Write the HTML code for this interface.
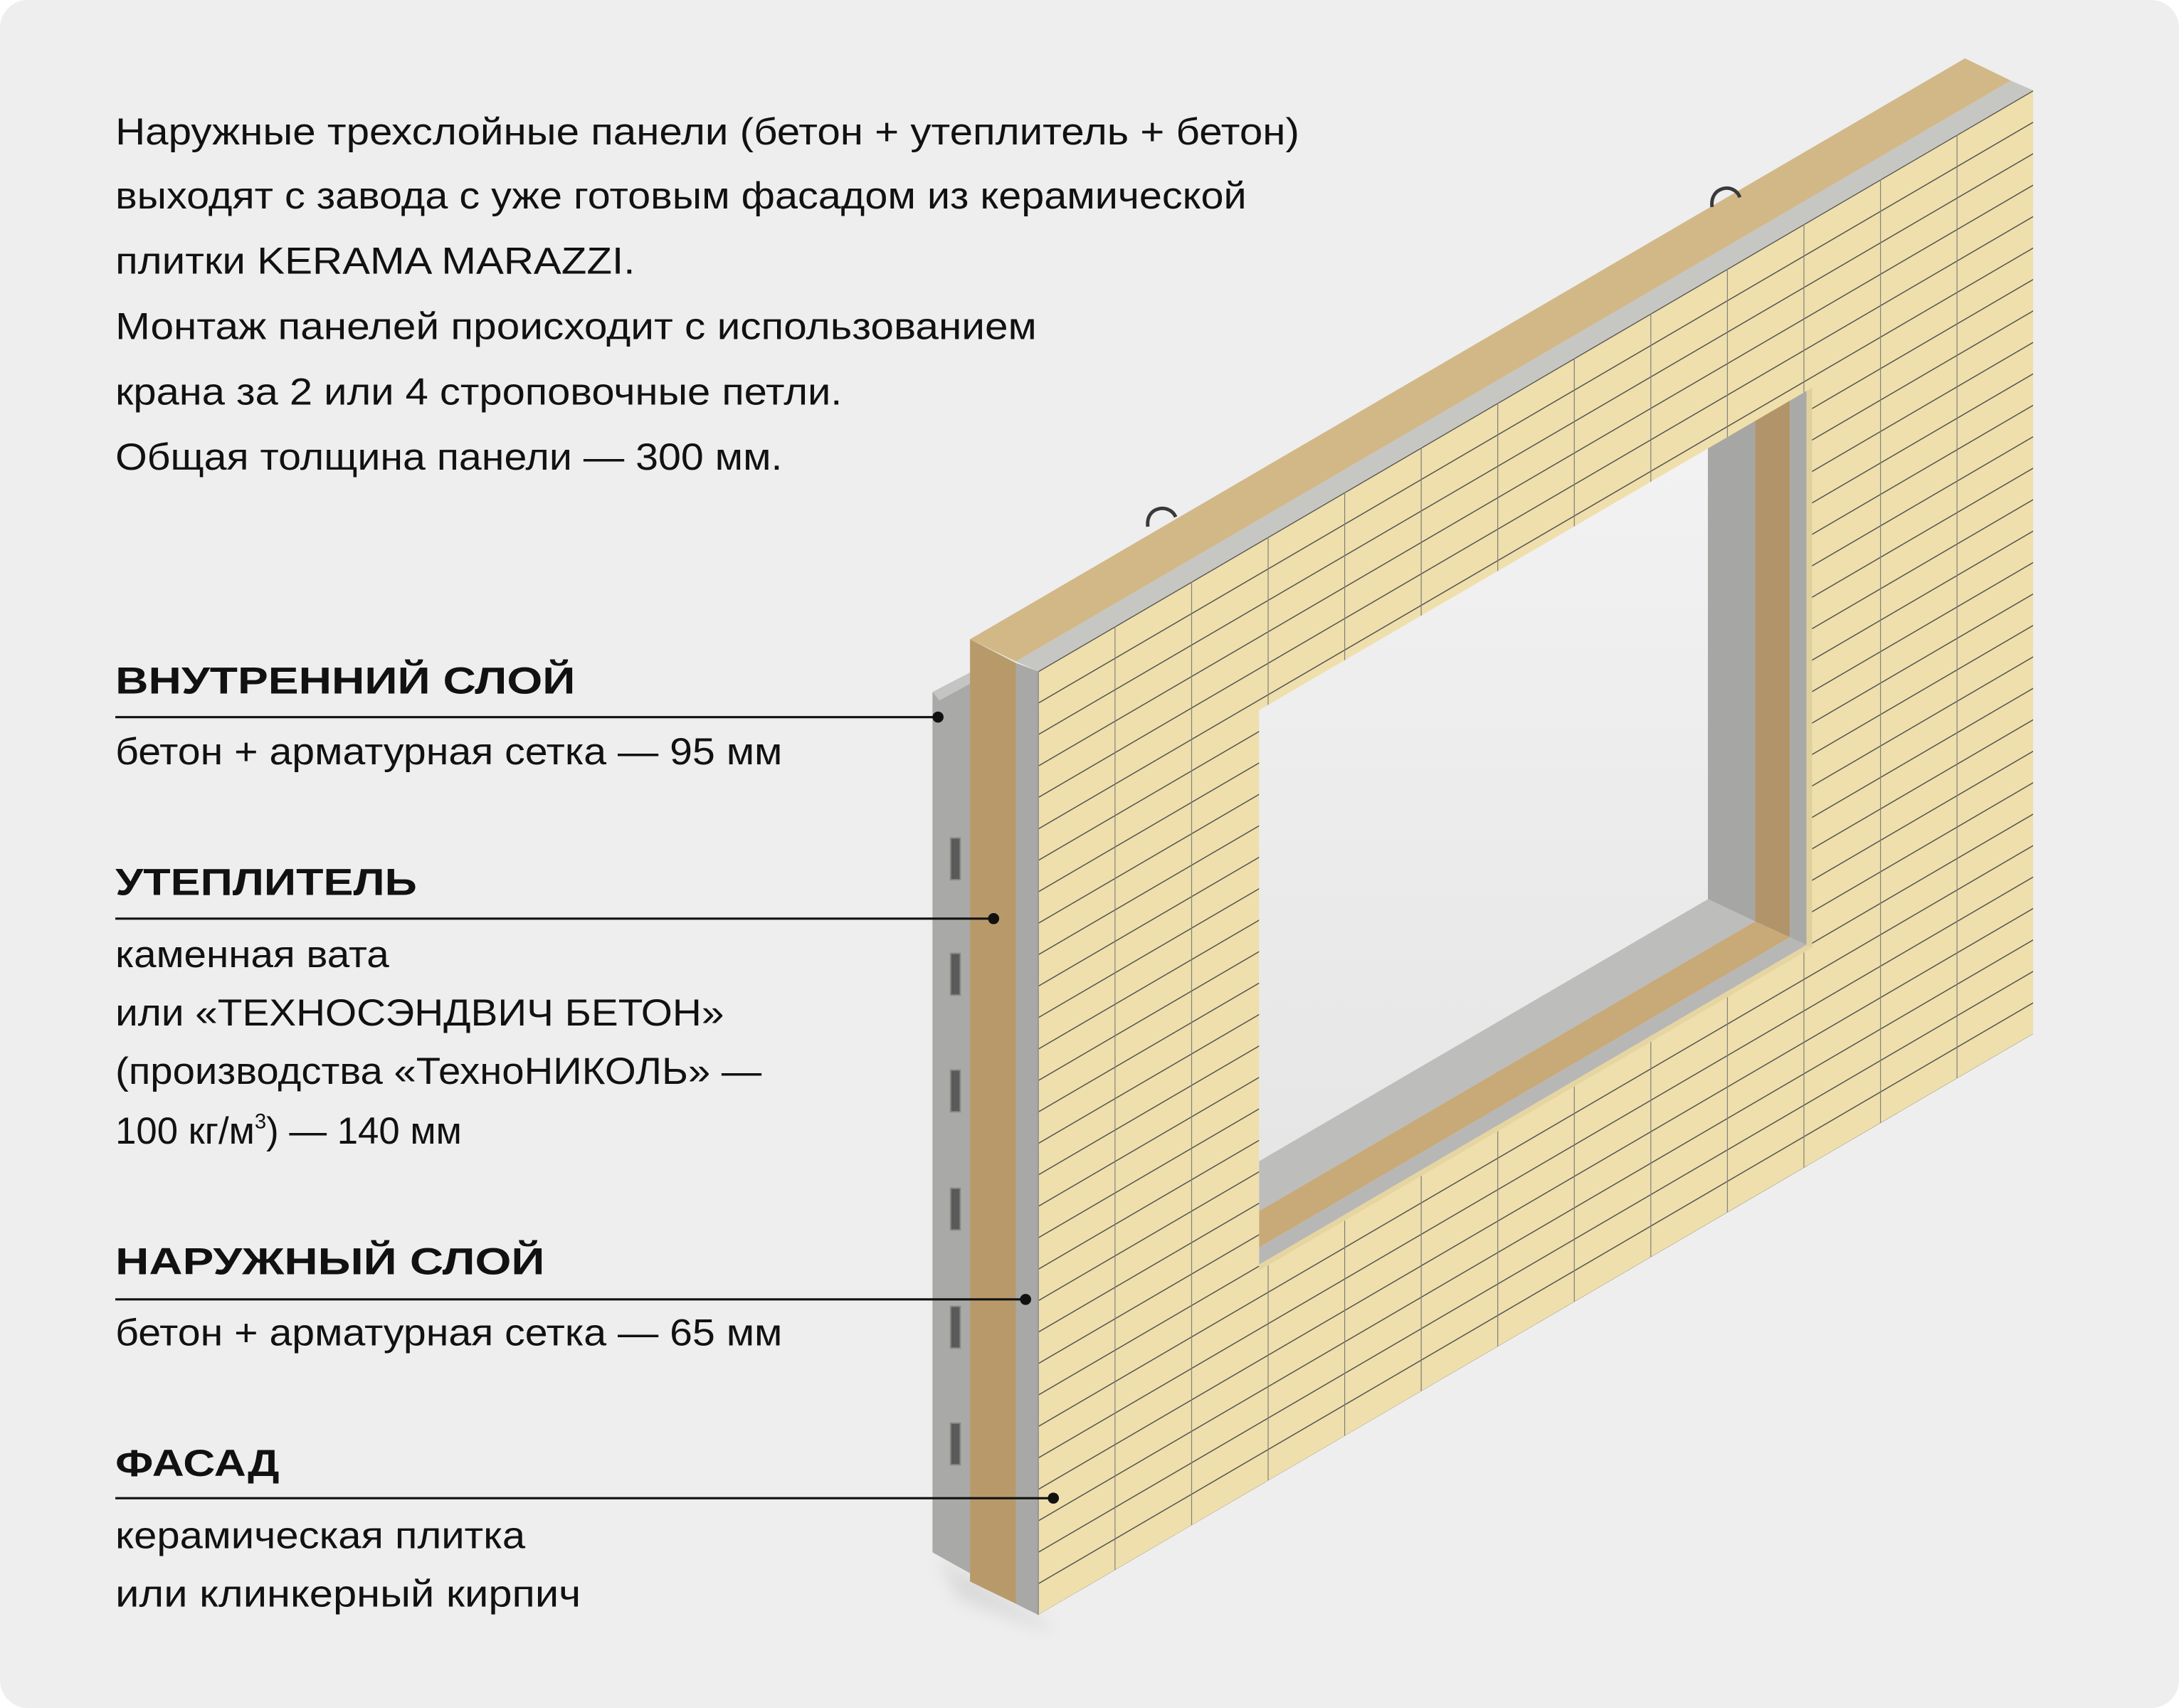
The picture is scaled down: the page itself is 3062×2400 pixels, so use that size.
<!DOCTYPE html>
<html><head><meta charset="utf-8">
<style>
html,body{margin:0;padding:0;background:#fff;}
svg{display:block;}
text{font-family:"Liberation Sans","DejaVu Sans",sans-serif;fill:#111;}
</style></head>
<body>
<svg width="3062" height="2400" viewBox="0 0 1568 1229" xmlns="http://www.w3.org/2000/svg">
<defs>
<pattern id="tiles" patternUnits="userSpaceOnUse" width="55.08" height="22.63" patternTransform="translate(747,483) skewY(-30.28)">
<rect width="55.08" height="22.63" fill="#eedfac"/>
<line x1="0" y1="0" x2="55.08" y2="0" stroke="#4a4a4a" stroke-width="1.7"/>
<line x1="0" y1="0" x2="0" y2="22.63" stroke="#7d7d7a" stroke-width="1.2"/>
</pattern>
<linearGradient id="hole" x1="0" y1="0" x2="0" y2="1">
<stop offset="0" stop-color="#f2f2f2"/><stop offset="1" stop-color="#e6e6e6"/>
</linearGradient>
<filter id="blur"><feGaussianBlur stdDeviation="6"/></filter>
</defs>

<rect x="0" y="0" width="1568" height="1229" rx="20" fill="#eeeeee"/>

<polygon points="675,1120 748,1165 760,1175 690,1150" fill="#cfcfcf" filter="url(#blur)" opacity="0.7"/>

<text x="83" y="104" font-size="27" textLength="852" lengthAdjust="spacingAndGlyphs">Наружные трехслойные панели (бетон + утеплитель + бетон)</text>
<text x="83" y="150" font-size="27" textLength="814" lengthAdjust="spacingAndGlyphs">выходят с завода с уже готовым фасадом из керамической</text>
<text x="83" y="197" font-size="27" textLength="374" lengthAdjust="spacingAndGlyphs">плитки KERAMA MARAZZI.</text>
<text x="83" y="244" font-size="27" textLength="663" lengthAdjust="spacingAndGlyphs">Монтаж панелей происходит с использованием</text>
<text x="83" y="291" font-size="27" textLength="523" lengthAdjust="spacingAndGlyphs">крана за 2 или 4 строповочные петли.</text>
<text x="83" y="338" font-size="27" textLength="480" lengthAdjust="spacingAndGlyphs">Общая толщина панели — 300 мм.</text>

<text x="83" y="499" font-size="27" font-weight="bold" textLength="331" lengthAdjust="spacingAndGlyphs">ВНУТРЕННИЙ СЛОЙ</text>
<text x="83" y="550" font-size="27" textLength="480" lengthAdjust="spacingAndGlyphs">бетон + арматурная сетка — 95 мм</text>

<text x="83" y="644" font-size="27" font-weight="bold" textLength="217" lengthAdjust="spacingAndGlyphs">УТЕПЛИТЕЛЬ</text>
<text x="83" y="696" font-size="27" textLength="197" lengthAdjust="spacingAndGlyphs">каменная вата</text>
<text x="83" y="738" font-size="27" textLength="438" lengthAdjust="spacingAndGlyphs">или «ТЕХНОСЭНДВИЧ БЕТОН»</text>
<text x="83" y="780" font-size="27" textLength="465" lengthAdjust="spacingAndGlyphs">(производства «ТехноНИКОЛЬ» —</text>
<text x="83" y="823" font-size="27">100 кг/м<tspan font-size="15" dy="-11">3</tspan><tspan dy="11">) — 140 мм</tspan></text>

<text x="83" y="917" font-size="27" font-weight="bold" textLength="309" lengthAdjust="spacingAndGlyphs">НАРУЖНЫЙ СЛОЙ</text>
<text x="83" y="968" font-size="27" textLength="480" lengthAdjust="spacingAndGlyphs">бетон + арматурная сетка — 65 мм</text>

<text x="83" y="1062" font-size="27" font-weight="bold" textLength="118" lengthAdjust="spacingAndGlyphs">ФАСАД</text>
<text x="83" y="1114" font-size="27" textLength="295" lengthAdjust="spacingAndGlyphs">керамическая плитка</text>
<text x="83" y="1156" font-size="27" textLength="335" lengthAdjust="spacingAndGlyphs">или клинкерный кирпич</text>

<polygon points="906,511 1229,322 1229,647 906,836" fill="url(#hole)"/>

<polygon points="671,498 698,484 698,1132 671,1117" fill="#a9a9a7"/>
<polygon points="671,498 698,484 698,492 676,504" fill="#c4c4c2"/>
<polygon points="698,460 731,477 731,1154 698,1138" fill="#b89a6a"/>
<polygon points="731,477 747,483 747,1162 731,1154" fill="#a8a8a6"/>
<g fill="#5a5a5a" stroke="#8a8a88" stroke-width="1">
<rect x="684" y="603" width="7" height="30"/>
<rect x="684" y="686" width="7" height="30"/>
<rect x="684" y="770" width="7" height="30"/>
<rect x="684" y="855" width="7" height="30"/>
<rect x="684" y="940" width="7" height="30"/>
<rect x="684" y="1024" width="7" height="30"/>
</g>

<polygon points="698,460 1414,42 1447,58 731,476" fill="#d2b887"/>
<polygon points="731,476 1447,58 1463,65 747,483" fill="#c6c6c3"/>

<path d="M826,379 C824,364 842,362 846,372" fill="none" stroke="#3a3a3a" stroke-width="2.5"/>
<path d="M1232,149 C1230,134 1248,131 1252,142" fill="none" stroke="#3a3a3a" stroke-width="2.5"/>

<polygon points="1229,322 1263,302 1263,663 1229,647" fill="#a6a6a4"/>
<polygon points="1263,302 1288,288 1288,674.5 1263,663" fill="#b2946a"/>
<polygon points="1288,288 1300,281 1300,680 1288,674.5" fill="#a9a9a7"/>
<polygon points="1300,281 1304,279 1304,682 1300,680" fill="#e0d09c"/>

<polygon points="906,835.6 1229,647 1263,663 906,871.5" fill="#bdbdbb"/>
<polygon points="906,871.5 1263,663 1288,674.5 906,897.6" fill="#c8a978"/>
<polygon points="906,897.6 1288,674.5 1300,680 906,910" fill="#b7b7b5"/>
<polygon points="906,910 1300,680 1304,682 906,914.4" fill="#e6d5a0"/>

<path fill-rule="evenodd" fill="url(#tiles)" d="M747,483 L1463,65 L1463,744 L747,1162 Z M906,511 L1304,279 L1304,682 L906,914.4 Z"/>
<line x1="747" y1="483" x2="747" y2="1162" stroke="#9a9a96" stroke-width="1"/>

<g stroke="#111" stroke-width="1.6">
<line x1="83" y1="516" x2="675" y2="516"/>
<line x1="83" y1="661" x2="715" y2="661"/>
<line x1="83" y1="935" x2="738" y2="935"/>
<line x1="83" y1="1078" x2="758" y2="1078"/>
</g>
<g fill="#111">
<circle cx="675" cy="516" r="4"/>
<circle cx="715" cy="661" r="4"/>
<circle cx="738" cy="935" r="4"/>
<circle cx="758" cy="1078" r="4"/>
</g>
</svg>
</body></html>
